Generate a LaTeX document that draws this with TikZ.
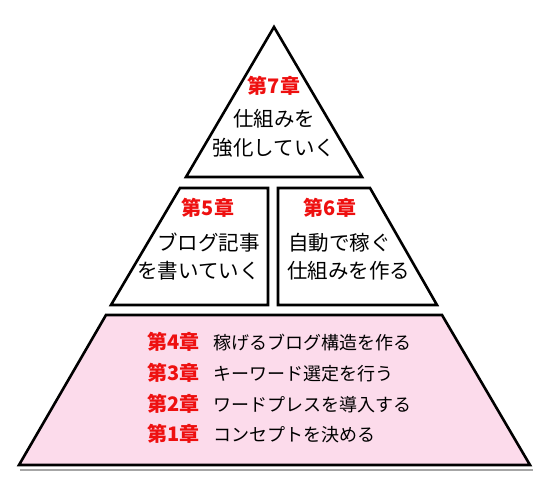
\documentclass[tikz,border=0pt]{standalone}
\usepackage{fontspec}
\setmainfont{Noto Sans CJK JP}
\definecolor{chapred}{RGB}{238,16,16}
\definecolor{pinkfill}{RGB}{252,219,235}
\begin{document}
\begin{tikzpicture}[x=1pt,y=-1pt,
  block/.style={draw=black,line width=2.6pt,line join=miter},
  chap/.style={inner sep=0pt,text=chapred,font=\fontsize{20}{24}\selectfont\bfseries,text height=0.88em,text depth=0.12em},
  body/.style={inner sep=0pt,text=black,font=\fontsize{20.5}{24}\selectfont,text height=0.88em,text depth=0.12em},
  bodysm/.style={inner sep=0pt,text=black,font=\fontsize{18}{22}\selectfont,text height=0.88em,text depth=0.12em}]
\useasboundingbox (0,0) rectangle (550,485);
% shapes
\draw[block] (274,27) -- (362,177) -- (186,177) -- cycle;
\draw[block] (180,188) -- (268,188) -- (268,305) -- (111,305) -- cycle;
\draw[block] (278,188) -- (370,188) -- (437,305) -- (278,305) -- cycle;
\draw[line width=1.5pt,black!35] (20,470) -- (533,470);
\draw[block,fill=pinkfill] (106,315) -- (442,315) -- (530,465) -- (19,465) -- cycle;
% triangle text
\node[chap] (c7) at (274,90) {第7章};
\node[body] (t7a) at (274,123) {仕組みを};
\node[body] (t7b) at (274,152) {強化していく};
% middle left
\node[chap] (c5) at (208,212) {第5章};
\node[body,anchor=east] (t5a) at (260,247) {ブログ記事};
\node[body,anchor=east] (t5b) at (260,275) {を書いていく};
% middle right
\node[chap] (c6) at (330,212) {第6章};
\node[body,anchor=west] (t6a) at (288,247) {自動で稼ぐ};
\node[body,anchor=west] (t6b) at (287,275) {仕組みを作る};
% bottom
\node[chap,anchor=west] (c4) at (147,346) {第4章};
\node[bodysm,anchor=west] (t4) at (213,346) {稼げるブログ構造を作る};
\node[chap,anchor=west] (c3) at (147,377) {第3章};
\node[bodysm,anchor=west] (t3) at (213,377) {キーワード選定を行う};
\node[chap,anchor=west] (c2) at (147,408) {第2章};
\node[bodysm,anchor=west] (t2) at (213,408) {ワードプレスを導入する};
\node[chap,anchor=west] (c1) at (147,438) {第1章};
\node[bodysm,anchor=west] (t1) at (213,438) {コンセプトを決める};
\end{tikzpicture}
\end{document}
